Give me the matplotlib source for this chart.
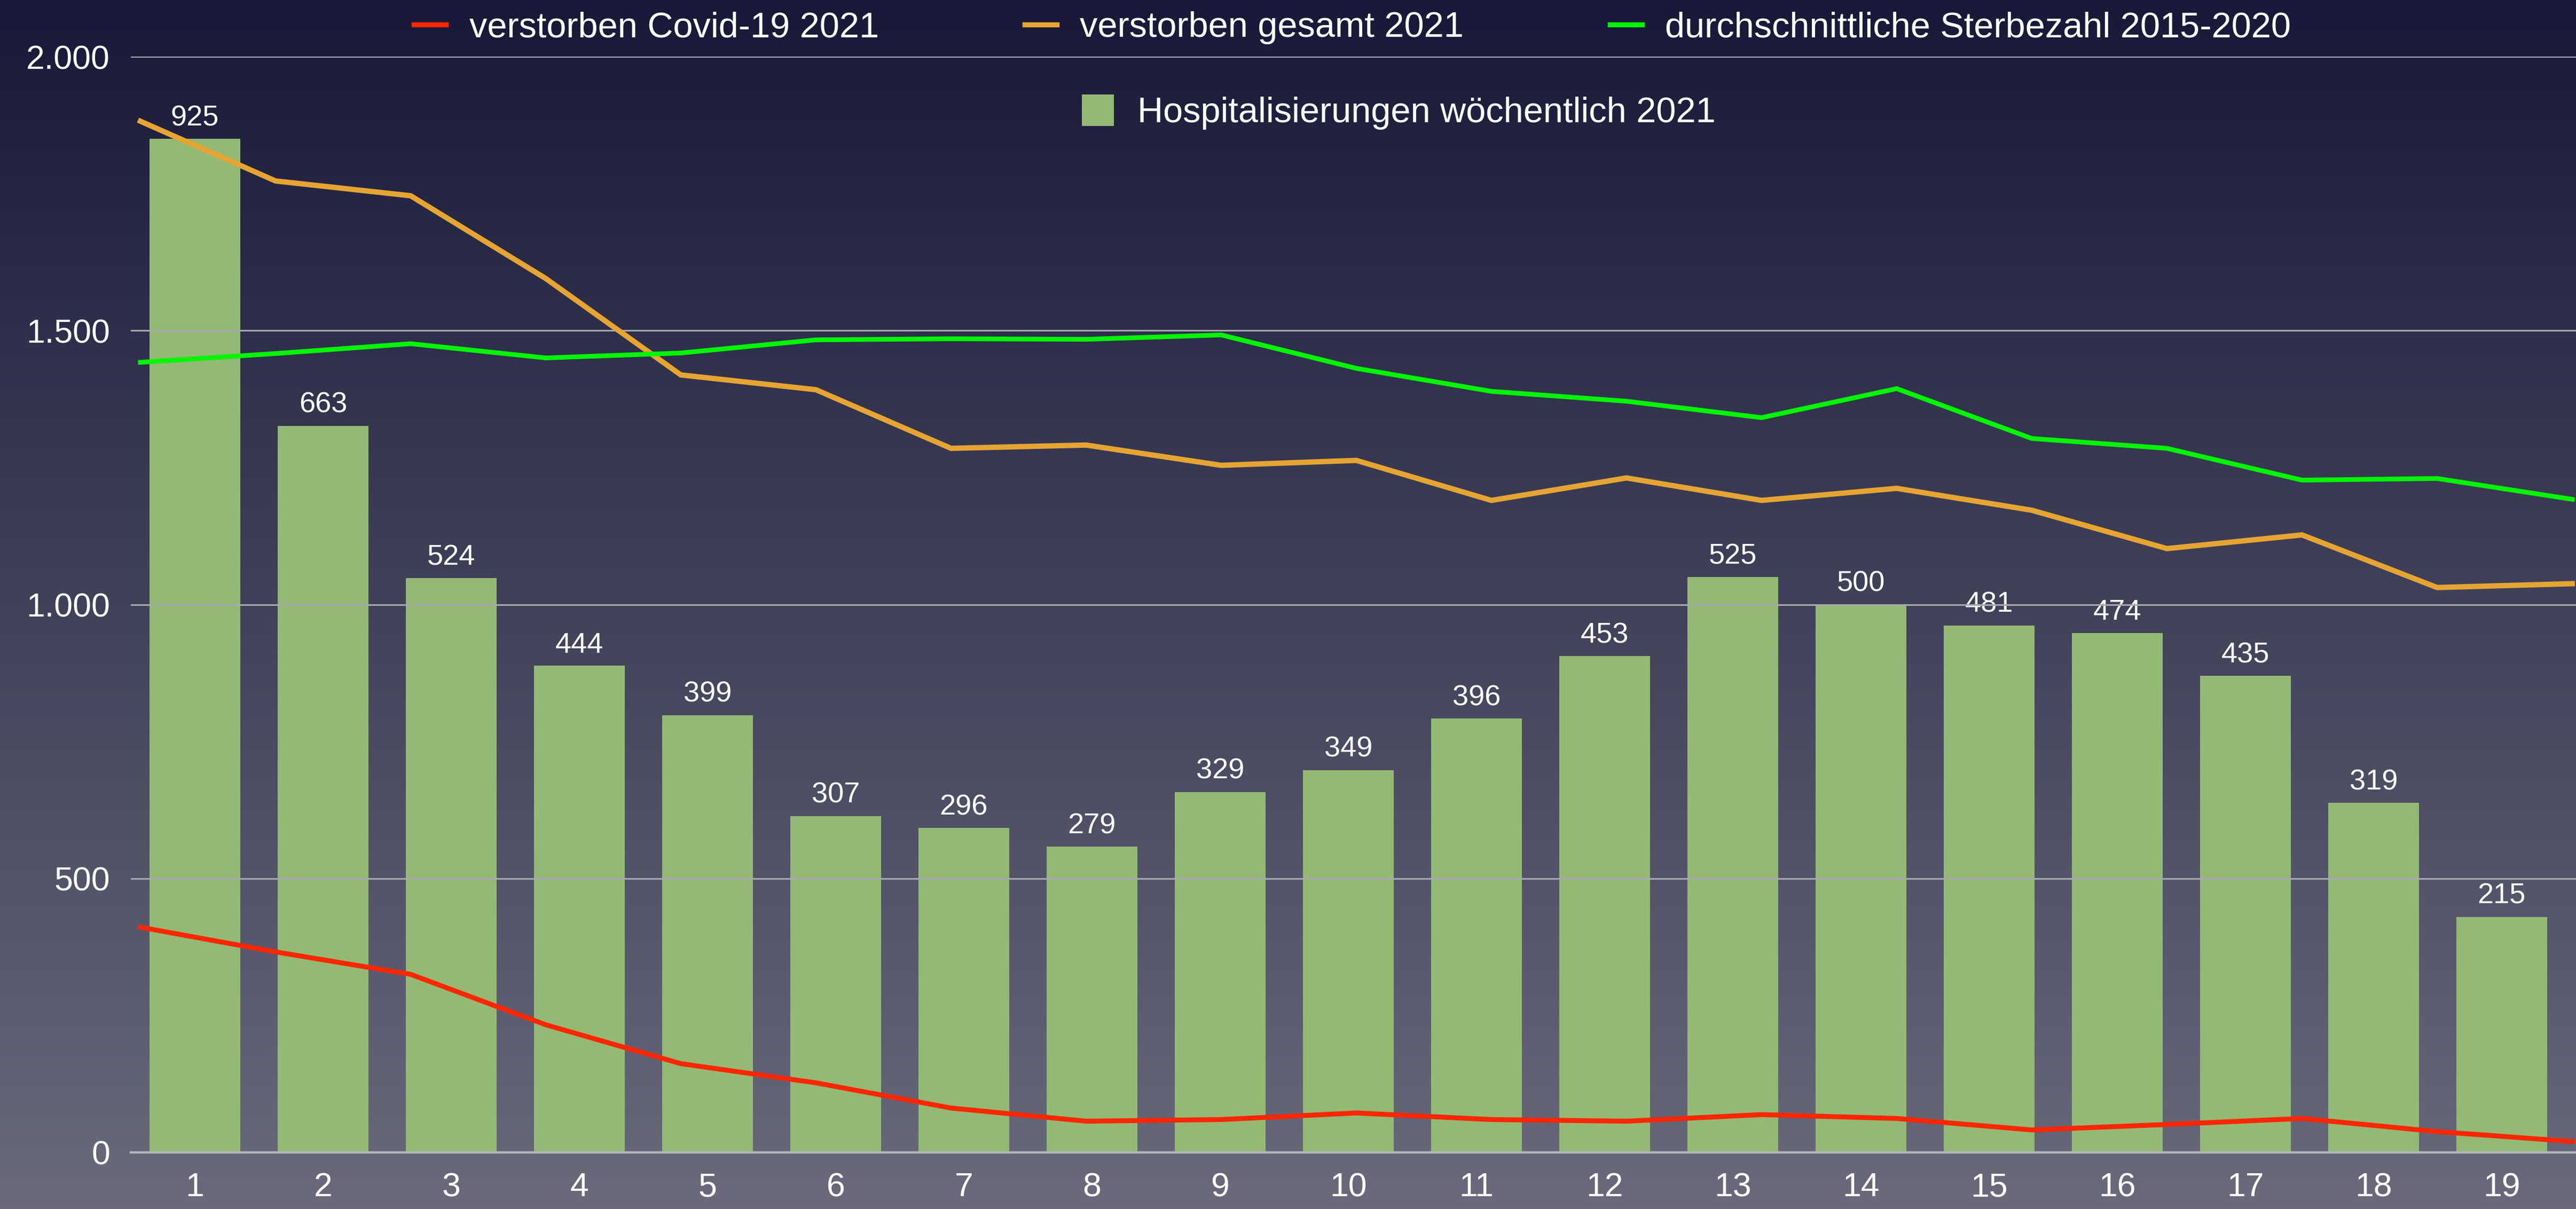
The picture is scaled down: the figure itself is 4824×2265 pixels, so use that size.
import numpy as np
import matplotlib
matplotlib.use("Agg")
import matplotlib.pyplot as plt
from matplotlib.ticker import FuncFormatter, FixedLocator
from matplotlib.lines import Line2D
from matplotlib.patches import Patch

plt.rcParams['font.family'] = ['Liberation Sans', 'DejaVu Sans']

# ---- data ----
weeks = list(range(1, 20))
hosp_weekly = [925, 663, 524, 444, 399, 307, 296, 279, 329, 349, 396, 453, 525, 500, 481, 474, 435, 319, 215]
deaths_covid = [411, 366, 325, 233, 162, 127, 81, 57, 60, 72, 60, 57, 69, 62, 41, 51, 62, 38, 20]
deaths_total = [1882, 1773, 1746, 1595, 1419, 1392, 1285, 1291, 1254, 1263, 1190, 1231, 1190, 1212, 1172, 1102, 1127, 1031, 1038]
deaths_avg = [1442, 1458, 1476, 1450, 1459, 1483, 1485, 1484, 1492, 1431, 1389, 1371, 1341, 1394, 1303, 1285, 1227, 1230, 1192]
y_ticks = [0, 500, 1000, 1500, 2000]

label_covid = "verstorben Covid-19 2021"
label_total = "verstorben gesamt 2021"
label_avg = "durchschnittliche Sterbezahl 2015-2020"
label_hosp = "Hospitalisierungen wöchentlich 2021"

C_RED = "#ff2600"
C_ORANGE = "#e6a532"
C_GREEN = "#00f500"
C_BAR = "#94b975"
C_TEXT = "white"

W, H = 4824, 2265
DPI = 200
fig = plt.figure(figsize=(W / DPI, H / DPI), dpi=DPI)

# background gradient
bg = fig.add_axes([0, 0, 1, 1], zorder=-10)
top = np.array([24, 25, 56]) / 255
bot = np.array([106, 106, 124]) / 255
t = np.linspace(0, 1, 512)[:, None]
grad = (top[None, :] * (1 - t) + bot[None, :] * t)[:, None, :]
bg.imshow(grad, aspect='auto', extent=[0, 1, 0, 1])
bg.axis('off')

left_px, right_px, top_px, bot_px = 245, 4824, 106, 2159
rect = [left_px / W, (H - bot_px) / H, (right_px - left_px) / W, (bot_px - top_px) / H]

# bar axes
axb = fig.add_axes(rect, zorder=1)
axb.patch.set_alpha(0)
bars = axb.bar(weeks, hosp_weekly, width=0.71, color=C_BAR, zorder=2)
axb.set_xlim(0.5, 19.58)
axb.set_ylim(0, 1000)
axb.set_yticks([])
axb.xaxis.set_major_locator(FixedLocator(weeks))
axb.set_xticklabels([str(w) for w in weeks])
axb.tick_params(axis='x', length=0, pad=13, labelsize=22.5, labelcolor=C_TEXT)
for s in axb.spines.values():
    s.set_visible(False)
axb.bar_label(bars, labels=[str(v) for v in hosp_weekly], padding=5, color=C_TEXT, fontsize=19.5)

# line axes
axl = fig.add_axes(rect, zorder=2)
axl.patch.set_alpha(0)
idx = np.arange(len(weeks))
axl.plot(idx, deaths_covid, color=C_RED, lw=3.3, zorder=3, solid_joinstyle='miter')
axl.plot(idx, deaths_total, color=C_ORANGE, lw=3.6, zorder=3, solid_joinstyle='miter')
axl.plot(idx, deaths_avg, color=C_GREEN, lw=3.2, zorder=3, solid_joinstyle='miter')
axl.set_xlim(-0.071, 18.028)
axl.set_ylim(0, 2000)
axl.set_xticks([])
axl.yaxis.set_major_locator(FixedLocator(y_ticks))
axl.yaxis.set_major_formatter(FuncFormatter(lambda v, p: f"{int(v):,}".replace(",", ".")))
axl.tick_params(axis='y', length=0, pad=14, labelsize=22.5, labelcolor=C_TEXT)
axl.grid(axis='y', color='#a8a8b0', lw=1.1, zorder=1)
axl.set_axisbelow(True)
for s in axl.spines.values():
    s.set_visible(False)
axl.spines['bottom'].set_visible(True)
axl.spines['bottom'].set_color('#b4b4b8')
axl.spines['bottom'].set_linewidth(1.6)

# legends
h1 = [Line2D([0], [0], color=C_RED, lw=3.4),
      Line2D([0], [0], color=C_ORANGE, lw=3.4),
      Line2D([0], [0], color=C_GREEN, lw=3.4)]
leg1 = fig.legend(handles=h1, labels=[label_covid, label_total, label_avg], loc='center',
                  bbox_to_anchor=(0.525, 1 - 52 / H), ncol=3, frameon=False, fontsize=24,
                  labelcolor=C_TEXT, handlelength=0.9, handletextpad=0.65, columnspacing=4.1)
leg2 = fig.legend(handles=[Patch(facecolor=C_BAR, edgecolor='none')], labels=[label_hosp], loc='center',
                  bbox_to_anchor=(0.543, 1 - 210 / H), frameon=False, fontsize=24,
                  labelcolor=C_TEXT, handlelength=0.9, handleheight=1.0, handletextpad=0.65)

fig.savefig("out.png", dpi=DPI)
